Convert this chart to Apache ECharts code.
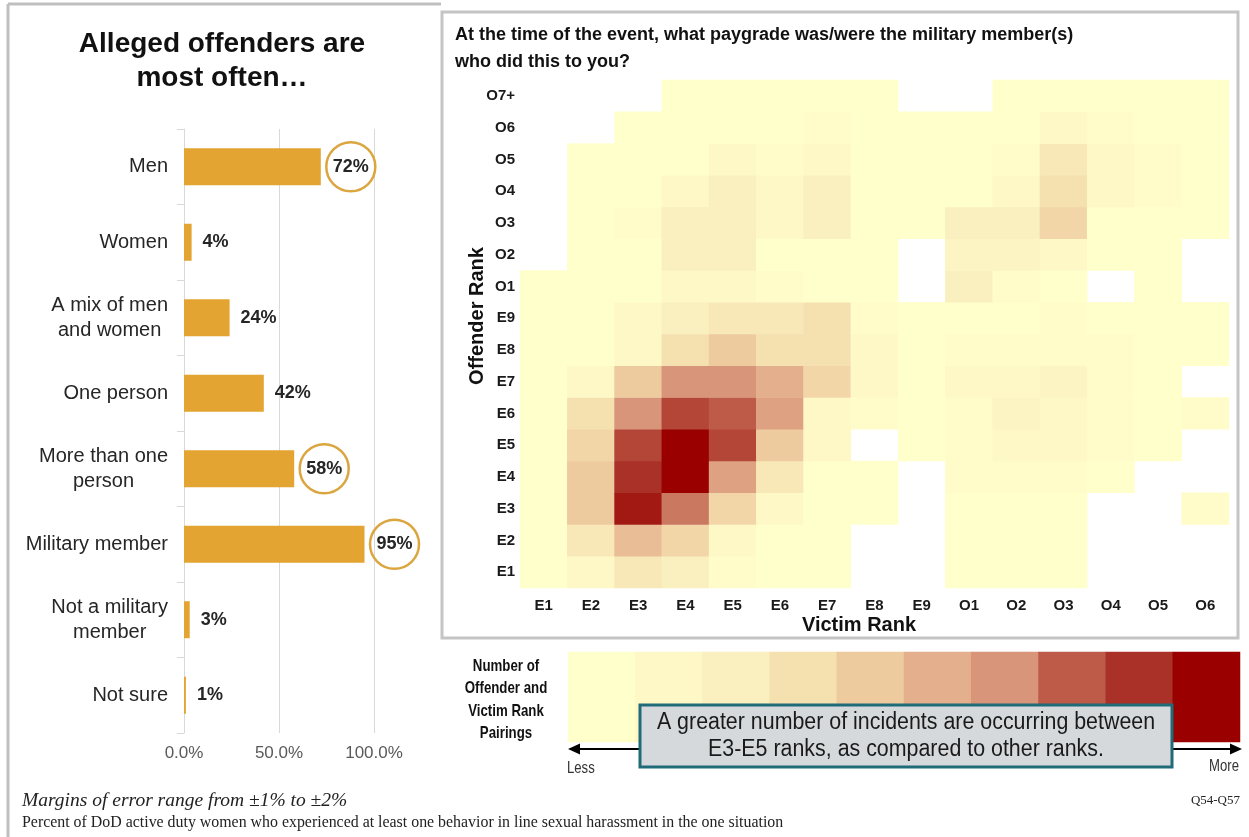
<!DOCTYPE html>
<html><head><meta charset="utf-8">
<script src="https://cdn.jsdelivr.net/npm/echarts@6/dist/echarts.min.js"></script>
<style>html,body{margin:0;padding:0;background:#fff}#c{width:1249px;height:837px}</style>
</head><body><div id="c"></div>
<script>
// ---- Left bar chart data ----
const offenderTypes = ['Men','Women','A mix of men\nand women','One person','More than one\nperson','Military member','Not a military\nmember','Not sure'];
const offenderPercents = [72, 4, 24, 42, 58, 95, 3, 1];
const circledTypes = ['Men','More than one\nperson','Military member'];
const percentTicks = [0, 50, 100];

// ---- Heatmap data ----
const victimRanks = ['E1','E2','E3','E4','E5','E6','E7','E8','E9','O1','O2','O3','O4','O5','O6'];
const offenderRanks = ['E1','E2','E3','E4','E5','E6','E7','E8','E9','O1','O2','O3','O4','O5','O6','O7+'];
// relative pairing intensity (1 = less ... 10 = more), rows = offender rank (E1 first), cols = victim rank
const pairingLevels = [
  /* E1  */ [1, 2, 3.5, 3, 1.5, 1, 1, null, null, 1, 1, 1, null, null, null],
  /* E2  */ [1, 3.5, 5.5, 4.5, 2, 1, 1, null, null, 1, 1, 1, null, null, null],
  /* E3  */ [1, 5, 9.5, 7.5, 4.5, 2, 1, 1, null, 1, 1, 1, null, null, 1.5],
  /* E4  */ [1, 5, 9, 10, 6.5, 3.5, 1, 1, null, 1.5, 1.5, 1.5, 1, null, null],
  /* E5  */ [1, 4.5, 8.5, 10, 8.5, 5, 2, null, 1, 1.5, 2, 2, 1.5, 1, null],
  /* E6  */ [1, 4, 7, 8.5, 8, 6.5, 2, 1.5, 1, 1.5, 2.5, 2, 1.5, 1, 1.5],
  /* E7  */ [1, 2, 5, 7, 7, 6, 4.5, 2, 1, 2, 2, 2.5, 1.5, 1, null],
  /* E8  */ [1, 1, 2, 4, 5, 4, 4, 2, 1, 1.5, 1.5, 1.5, 1.5, 1, 1],
  /* E9  */ [1, 1, 2, 3, 3.5, 3.5, 4, 1.5, 1, 1, 1, 1.5, 1, 1, 1],
  /* O1  */ [1, 1, 1, 2, 2, 1.5, 1, 1, null, 3, 1.5, 1, null, 1, null],
  /* O2  */ [null, 1, 1, 3, 3, 1, 1, 1, null, 2.5, 2.5, 2, 1, 1, null],
  /* O3  */ [null, 1, 1.5, 3, 3, 2, 3, 1, 1, 3, 3, 4.5, 1, 1, 1],
  /* O4  */ [null, 1, 1, 2, 3, 2, 3, 1, 1, 1, 2, 4, 2, 1.5, 1],
  /* O5  */ [null, 1, 1, 1, 2, 1.5, 2, 1, 1, 1, 1.5, 3.5, 2, 1.5, 1],
  /* O6  */ [null, null, 1, 1, 1, 1, 1.5, 1, 1, 1, 1, 2, 1.5, 1, 1],
  /* O7+ */ [null, null, null, 1, 1, 1, 1, 1, null, null, 1, 1, 1, 1, 1]
];
const legendLevels = [1,2,3,4,5,6,7,8,9,10];
const scaleColors = ['#FFFFCC','#FEF8C6','#FAEFBE','#F5E1B0','#EECB9F','#E4AF8C','#D8957A','#BD5B48','#AA3128','#9A0000'];

const heatData = [];
pairingLevels.forEach((row, yi) => row.forEach((v, xi) => { if (v !== null) heatData.push([xi, yi, v]); }));
const legendData = legendLevels.map((v, i) => [i, 0, v]);

const SANS = "'Liberation Sans', Arial, sans-serif";
const SERIF = "'Liberation Serif', 'Times New Roman', serif";
const GOLD = '#E3A431';

const chart = echarts.init(document.getElementById('c'), null, {renderer: 'canvas'});
chart.setOption({
  animation: false,
  backgroundColor: '#fff',
  grid: [
    {left: 184, top: 129, width: 190, height: 604},
    {left: 520, top: 80, width: 709, height: 508},
    {left: 568, top: 652, width: 672, height: 90}
  ],
  xAxis: [
    {gridIndex: 0, type: 'value', min: 0, max: 100, interval: 50,
     axisLine: {show: false}, axisTick: {show: false},
     splitLine: {lineStyle: {color: '#D9D9D9', width: 1}},
     axisLabel: {formatter: v => v.toFixed(1) + '%', fontFamily: SANS, fontSize: 17, color: '#595959', margin: 12}},
    {gridIndex: 1, type: 'category', data: victimRanks,
     axisLine: {show: false}, axisTick: {show: false}, splitLine: {show: false},
     axisLabel: {fontFamily: SANS, fontSize: 15, fontWeight: 'bold', color: '#1a1a1a', margin: 10}},
    {gridIndex: 2, type: 'category', data: legendLevels.map(String), show: false}
  ],
  yAxis: [
    {gridIndex: 0, type: 'category', data: offenderTypes, inverse: true,
     axisLine: {show: true, lineStyle: {color: '#D9D9D9', width: 1}},
     axisTick: {show: true, length: 7, lineStyle: {color: '#D9D9D9'}},
     axisLabel: {margin: 16, formatter: v => v.split('\n').map(s => '{c|' + s + '}').join('\n'),
       rich: {c: {align: 'center', fontFamily: SANS, fontSize: 20, color: '#262626', lineHeight: 25}}}},
    {gridIndex: 1, type: 'category', data: offenderRanks,
     axisLine: {show: false}, axisTick: {show: false}, splitLine: {show: false},
     axisLabel: {fontFamily: SANS, fontSize: 15, fontWeight: 'bold', color: '#1a1a1a', margin: 5}},
    {gridIndex: 2, type: 'category', data: ['scale'], show: false}
  ],
  visualMap: {type: 'continuous', show: false, min: 1, max: 10, seriesIndex: [1, 2], dimension: 2,
    inRange: {color: scaleColors}},
  series: [
    {type: 'bar', xAxisIndex: 0, yAxisIndex: 0, barWidth: 37,
     itemStyle: {color: GOLD},
     data: offenderPercents.map((v, i) => {
       const circled = circledTypes.includes(offenderTypes[i]);
       return circled ? {value: v, label: {show: true, position: 'right', distance: 30, align: 'center',
         width: 49, height: 49, lineHeight: 49, borderRadius: 26, borderWidth: 2.5, borderColor: '#DBA640',
         formatter: '{c}%', fontFamily: SANS, fontSize: 18, fontWeight: 'bold', color: '#262626'}} : v;
     }),
     label: {show: true, position: 'right', distance: 11, formatter: '{c}%', fontFamily: SANS, fontSize: 18, fontWeight: 'bold', color: '#262626'}},
    {type: 'heatmap', xAxisIndex: 1, yAxisIndex: 1, data: heatData, itemStyle: {borderWidth: 0}},
    {type: 'heatmap', xAxisIndex: 2, yAxisIndex: 2, data: legendData, itemStyle: {borderWidth: 0}}
  ],
  graphic: [
    {type: 'line', shape: {x1: 8, y1: 4, x2: 8, y2: 837}, style: {stroke: '#BFBFBF', lineWidth: 3}},
    {type: 'line', shape: {x1: 8, y1: 4, x2: 441, y2: 4}, style: {stroke: '#BFBFBF', lineWidth: 3}},
    {type: 'rect', shape: {x: 442, y: 12, width: 796, height: 626}, style: {fill: null, stroke: '#C4C4C4', lineWidth: 3}},
    {type: 'text', x: 222, y: 27, style: {text: 'Alleged offenders are\nmost often…', font: 'bold 28px ' + SANS, fill: '#111', textAlign: 'center', lineHeight: 34}},
    {type: 'text', x: 455, y: 22, style: {text: 'At the time of the event, what paygrade was/were the military member(s)\nwho did this to you?', font: 'bold 18px ' + SANS, fill: '#111', lineHeight: 27}},
    {type: 'text', x: 477, y: 316, rotation: Math.PI / 2, style: {text: 'Offender Rank', font: 'bold 20px ' + SANS, fill: '#111', textAlign: 'center', textVerticalAlign: 'middle'}},
    {type: 'text', x: 859, y: 625, style: {text: 'Victim Rank', font: 'bold 20px ' + SANS, fill: '#111', textAlign: 'center', textVerticalAlign: 'middle'}},
    {type: 'text', x: 506, y: 655, scaleX: 0.78, style: {text: 'Number of\nOffender and\nVictim Rank\nPairings', font: 'bold 17px ' + SANS, fill: '#111', textAlign: 'center', lineHeight: 22.5}},
    {type: 'line', z: 50, shape: {x1: 576, y1: 749, x2: 1234, y2: 749}, style: {stroke: '#000', lineWidth: 2}},
    {type: 'polygon', z: 50, shape: {points: [[568, 749], [580, 743.5], [580, 754.5]]}, style: {fill: '#000'}},
    {type: 'polygon', z: 50, shape: {points: [[1242, 749], [1230, 743.5], [1230, 754.5]]}, style: {fill: '#000'}},
    {type: 'text', x: 567, y: 769, scaleX: 0.82, style: {text: 'Less', font: '16px ' + SANS, fill: '#333', textVerticalAlign: 'middle'}},
    {type: 'text', x: 1239, y: 767, scaleX: 0.82, style: {text: 'More', font: '16px ' + SANS, fill: '#333', textAlign: 'right', textVerticalAlign: 'middle'}},
    {type: 'rect', z: 60, shape: {x: 640, y: 705, width: 532, height: 62}, style: {fill: '#D6D9DC', stroke: '#1F6B78', lineWidth: 3}},
    {type: 'text', z: 61, x: 906, y: 736, scaleX: 0.93, style: {text: 'A greater number of incidents are occurring between\nE3-E5 ranks, as compared to other ranks.', font: '23px ' + SANS, fill: '#1a1a1a', textAlign: 'center', textVerticalAlign: 'middle', lineHeight: 27}},
    {type: 'text', x: 22, y: 801, style: {text: 'Margins of error range from ±1% to ±2%', font: 'italic 19.5px ' + SERIF, fill: '#222', textVerticalAlign: 'middle'}},
    {type: 'text', x: 22, y: 823, style: {text: 'Percent of DoD active duty women who experienced at least one behavior in line sexual harassment in the one situation', font: '15.9px ' + SERIF, fill: '#222', textVerticalAlign: 'middle'}},
    {type: 'text', x: 1240, y: 801, style: {text: 'Q54-Q57', font: '13px ' + SERIF, fill: '#222', textAlign: 'right', textVerticalAlign: 'middle'}}
  ]
});
</script></body></html>
